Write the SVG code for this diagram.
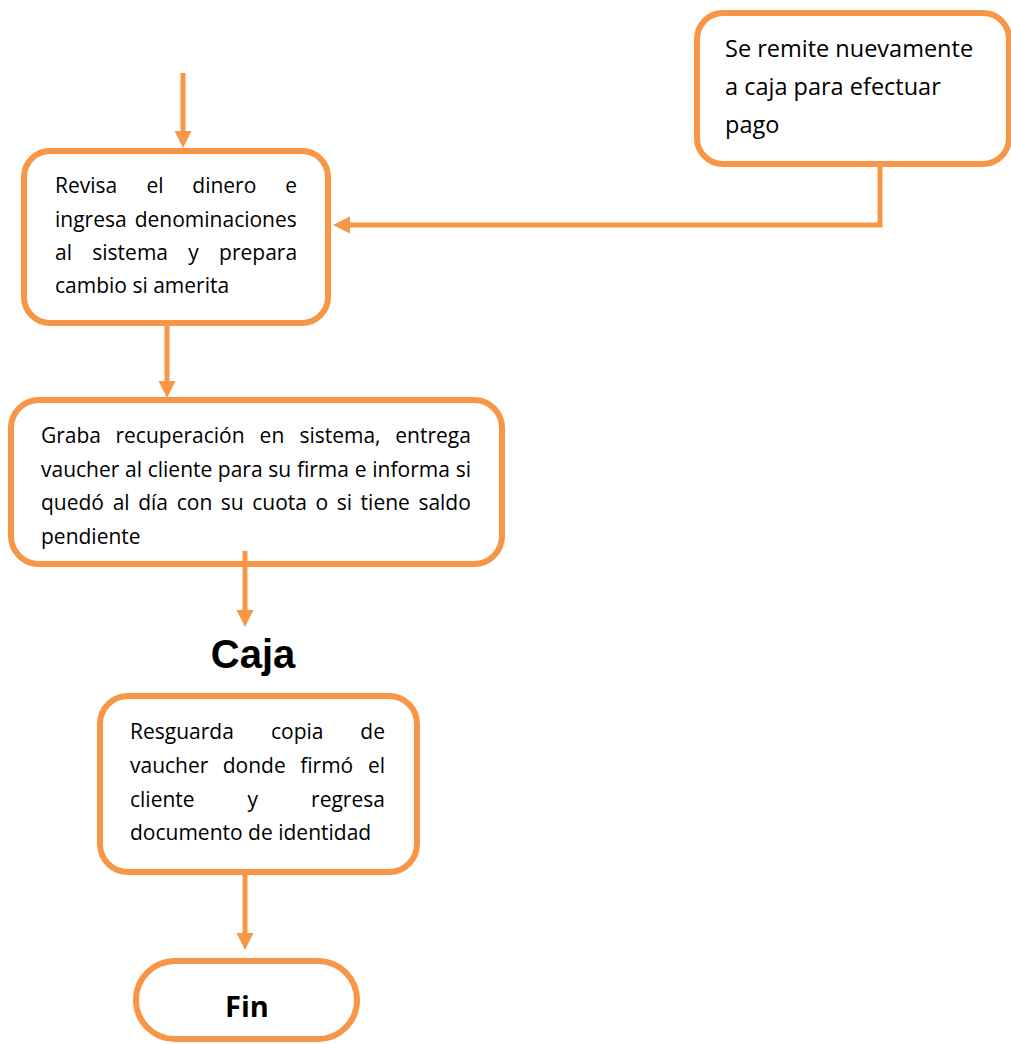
<svg xmlns="http://www.w3.org/2000/svg" width="1011" height="1044" viewBox="0 0 1011 1044">
  <style>
    .box { fill: #ffffff; stroke: #F79646; stroke-width: 6; }
    .conn { fill: none; stroke: #F79646; stroke-width: 5; }
    .txt { font-family: "Open Sans", "Noto Sans", sans-serif; font-size: 21px; fill: #000000; }
    .big { font-size: 23.5px; }
    .title { font-family: "Liberation Sans", Arial, sans-serif; font-weight: bold; font-size: 40px; fill: #000000; text-anchor: middle; }
    .fin { font-family: "Open Sans", "Noto Sans", sans-serif; font-weight: bold; font-size: 29px; fill: #000000; text-anchor: middle; }
  </style>
  <defs>
    <marker id="ah" viewBox="0 0 10 10" refX="0" refY="5" markerWidth="17" markerHeight="18" markerUnits="userSpaceOnUse" orient="auto">
      <path d="M0,0 L10,5 L0,10 z" fill="#F79646"/>
    </marker>
  </defs>

  <rect width="1011" height="1044" fill="#ffffff"/>

  <!-- remit to cashier again -->
  <g id="node-remite">
    <rect class="box" x="697" y="13" width="312" height="151" rx="26"/>
    <text class="txt big" x="725" y="57">Se remite nuevamente</text>
    <text class="txt big" x="725" y="95">a caja para efectuar</text>
    <text class="txt big" x="725" y="133">pago</text>
  </g>

  <!-- check money (justified lines: one tspan per word) -->
  <g id="node-revisa">
    <rect class="box" x="24" y="151" width="304" height="172" rx="26"/>
    <text class="txt" y="193"><tspan x="55">Revisa</tspan><tspan x="146.4">el</tspan><tspan x="192.3">dinero</tspan><tspan x="285.2">e</tspan></text>
    <text class="txt" y="227"><tspan x="55">ingresa</tspan><tspan x="134.7">denominaciones</tspan></text>
    <text class="txt" y="260"><tspan x="55">al</tspan><tspan x="92.3">sistema</tspan><tspan x="188.3">y</tspan><tspan x="219.1">prepara</tspan></text>
    <text class="txt" x="55" y="293">cambio si amerita</text>
  </g>

  <!-- record payment -->
  <g id="node-graba">
    <rect class="box" x="11" y="400" width="491" height="164" rx="28"/>
    <text class="txt" y="443"><tspan x="41">Graba</tspan><tspan x="115.5">recuperación</tspan><tspan x="259.6">en</tspan><tspan x="299.4">sistema,</tspan><tspan x="395.3">entrega</tspan></text>
    <text class="txt" y="477"><tspan x="41">vaucher</tspan><tspan x="125">al</tspan><tspan x="147.7">cliente</tspan><tspan x="217.8">para</tspan><tspan x="268.3">su</tspan><tspan x="296.9">firma</tspan><tspan x="354.8">e</tspan><tspan x="372.3">informa</tspan><tspan x="455.7">si</tspan></text>
    <text class="txt" y="510"><tspan x="41">quedó</tspan><tspan x="112.7">al</tspan><tspan x="138.2">día</tspan><tspan x="176.7">con</tspan><tspan x="220.8">su</tspan><tspan x="252.3">cuota</tspan><tspan x="315.5">o</tspan><tspan x="336.8">si</tspan><tspan x="360.6">tiene</tspan><tspan x="418.4">saldo</tspan></text>
    <text class="txt" x="41" y="544">pendiente</text>
  </g>

  <!-- lane label -->
  <g id="label-caja">
    <text class="title" x="253" y="668">Caja</text>
  </g>

  <!-- keep voucher copy -->
  <g id="node-resguarda">
    <rect class="box" x="100" y="696" width="317" height="176" rx="28"/>
    <text class="txt" y="739"><tspan x="130">Resguarda</tspan><tspan x="271">copia</tspan><tspan x="360.3">de</tspan></text>
    <text class="txt" y="773"><tspan x="130">vaucher</tspan><tspan x="222.7">donde</tspan><tspan x="300.2">firmó</tspan><tspan x="367.9">el</tspan></text>
    <text class="txt" y="807"><tspan x="130">cliente</tspan><tspan x="247.6">y</tspan><tspan x="311.1">regresa</tspan></text>
    <text class="txt" x="130" y="840">documento de identidad</text>
  </g>

  <!-- end -->
  <g id="node-fin">
    <rect class="box" x="136" y="961" width="221" height="78" rx="39"/>
    <text class="fin" x="247" y="1017">Fin</text>
  </g>

  <!-- connectors, drawn on top so the stub inside the record box shows -->
  <g id="connectors">
    <line class="conn" x1="183" y1="73" x2="183" y2="131" marker-end="url(#ah)"/>
    <polyline class="conn" points="880,166 880,225 350,225" marker-end="url(#ah)"/>
    <line class="conn" x1="167" y1="324" x2="167" y2="381" marker-end="url(#ah)"/>
    <line class="conn" x1="245" y1="551" x2="245" y2="610" marker-end="url(#ah)"/>
    <line class="conn" x1="245" y1="874" x2="245" y2="933" marker-end="url(#ah)"/>
  </g>
</svg>
